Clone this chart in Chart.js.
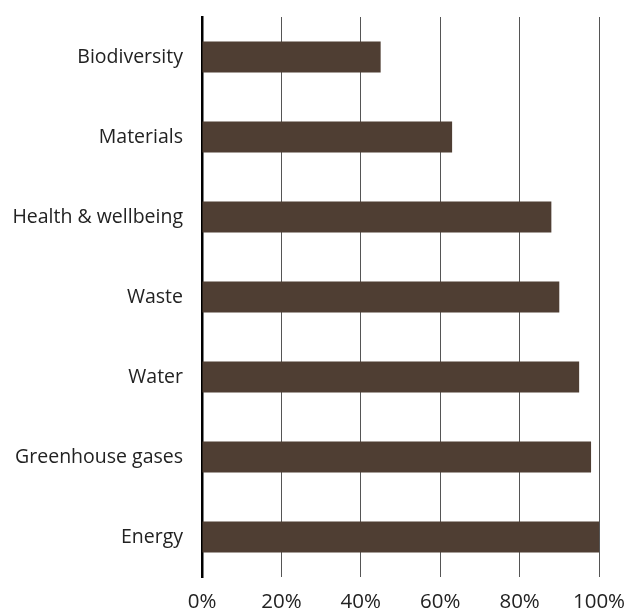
<!DOCTYPE html>
<html>
<head>
<meta charset="utf-8">
<script src="https://cdn.jsdelivr.net/npm/chart.js@4"></script>
<style>
  html, body { margin: 0; padding: 0; background: #fff; }
  #wrap { width: 628px; height: 612px; }
</style>
</head>
<body>
<div id="wrap"><canvas id="issuesChart"></canvas></div>
<script>
// Dados do gráfico
const categories = ['Biodiversity', 'Materials', 'Health & wellbeing', 'Waste', 'Water', 'Greenhouse gases', 'Energy'];
const shares = [45, 63, 88, 90, 95, 98, 100];
const tickValues = [0, 20, 40, 60, 80, 100];

// Zera o padding automático das escalas para controlar a área do gráfico
function noScalePadding(scale) {
    scale.paddingTop = 0;
    scale.paddingBottom = 0;
    scale.paddingLeft = 0;
    scale.paddingRight = 0;
}

const ctx = document.getElementById('issuesChart').getContext('2d');
const issuesChart = new Chart(ctx, {
    type: 'bar',
    data: {
        labels: categories,
        datasets: [{
            data: shares,
            backgroundColor: '#4f3e33',
            borderWidth: 0,
            categoryPercentage: 1,
            barPercentage: 0.39
        }]
    },
    options: {
        indexAxis: 'y',
        responsive: true,
        maintainAspectRatio: false,
        animation: false,
        layout: {
            padding: { top: 17, right: 29, left: 0, bottom: 0 }
        },
        plugins: {
            legend: { display: false },
            tooltip: { enabled: false }
        },
        scales: {
            x: {
                min: 0,
                max: 100,
                afterBuildTicks: function(scale) {
                    scale.ticks = tickValues.map(v => ({ value: v }));
                },
                grid: {
                    color: '#555',
                    lineWidth: 1,
                    drawTicks: false
                },
                border: { display: false },
                ticks: {
                    padding: 13,
                    color: '#222',
                    font: { family: 'Open Sans', size: 20.5 },
                    callback: v => v + '%'
                },
                afterFit: function(scale) {
                    scale.height = 35;
                    noScalePadding(scale);
                }
            },
            y: {
                grid: { display: false, drawTicks: false },
                border: { display: true, color: '#000', width: 2.5 },
                ticks: {
                    padding: 19,
                    color: '#222',
                    font: { family: 'Open Sans', size: 19.5 }
                },
                afterFit: function(scale) {
                    scale.width = 202;
                    noScalePadding(scale);
                }
            }
        }
    }
});
</script>
</body>
</html>
